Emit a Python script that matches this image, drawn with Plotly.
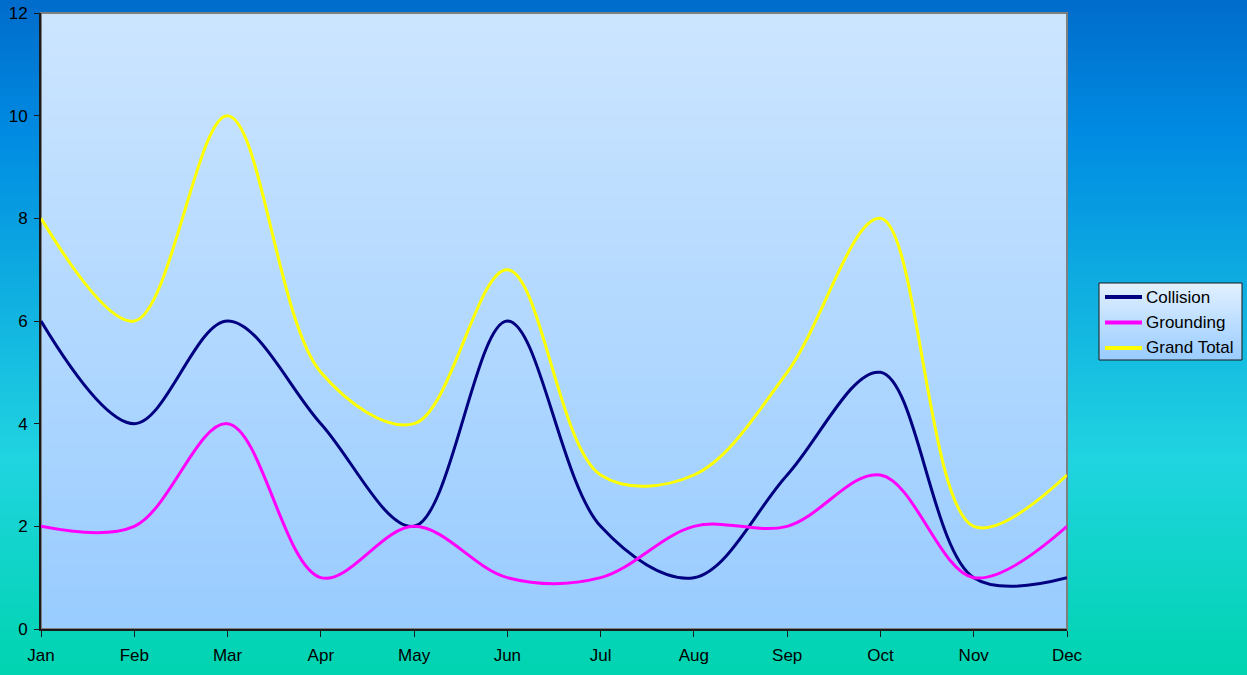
import base64
import struct
import zlib

import plotly.graph_objects as go

months = ["Jan", "Feb", "Mar", "Apr", "May", "Jun", "Jul", "Aug", "Sep", "Oct", "Nov", "Dec"]
collision = [6, 4, 6, 4, 2, 6, 2, 1, 3, 5, 1, 1]
grounding = [2, 2, 4, 1, 2, 1, 1, 2, 2, 3, 1, 2]
grand_total = [8, 6, 10, 5, 4, 7, 3, 3, 5, 8, 2, 3]
y_ticks = [0, 2, 4, 6, 8, 10, 12]
series_names = ["Collision", "Grounding", "Grand Total"]
series_colors = ["#000080", "#FF00FF", "#FFFF00"]

W, H = 1247, 675
L, R, T, B = 41, 180, 13, 46
PW, PH = W - L - R, H - T - B


def px_x(p):
    return (p - L) / PW


def px_y(p):
    return (H - B - p) / PH


def lerp(c1, c2, t):
    return tuple(round(a + (b - a) * t) for a, b in zip(c1, c2))


def grad(stops, t):
    for i in range(len(stops) - 1):
        t0, c0 = stops[i]
        t1, c1 = stops[i + 1]
        if t0 <= t <= t1:
            return lerp(c0, c1, (t - t0) / (t1 - t0) if t1 > t0 else 0)
    return stops[-1][1]


def gradient_png(stops, n=256):
    raw = b""
    for i in range(n):
        c = grad(stops, i / (n - 1))
        raw += b"\x00" + bytes(c) * 2
    def chunk(tag, data):
        return struct.pack(">I", len(data)) + tag + data + struct.pack(">I", zlib.crc32(tag + data) & 0xFFFFFFFF)
    png = b"\x89PNG\r\n\x1a\n"
    png += chunk(b"IHDR", struct.pack(">IIBBBBB", 2, n, 8, 2, 0, 0, 0))
    png += chunk(b"IDAT", zlib.compress(raw, 9))
    png += chunk(b"IEND", b"")
    return "data:image/png;base64," + base64.b64encode(png).decode()


def img(src, x0, x1, y0, y1):
    return dict(source=src, xref="paper", yref="paper", x=px_x(x0), y=px_y(y0),
                sizex=px_x(x1) - px_x(x0), sizey=px_y(y0) - px_y(y1),
                xanchor="left", yanchor="top", sizing="stretch", layer="below")


bg_stops = [(0, (0, 108, 204)), (0.2, (0, 140, 226)), (0.68, (32, 212, 224)), (1.0, (0, 212, 176))]
pa_stops = [(0, (204, 229, 255)), (1, (153, 204, 255))]
lg_stops = [(0, (226, 241, 255)), (1, (153, 204, 255))]

lg_x0, lg_x1, lg_y0, lg_y1 = 1099, 1242, 283, 360
images = [
    img(gradient_png(bg_stops), 0, W, 0, H),
    img(gradient_png(pa_stops), L, L + PW, T, T + PH),
    img(gradient_png(lg_stops), lg_x0, lg_x1, lg_y0, lg_y1),
]

shapes = [
    dict(type="rect", xref="paper", yref="paper", x0=0, x1=1, y0=0, y1=1,
         line=dict(color="#7f7f7f", width=2), fillcolor="rgba(0,0,0,0)", layer="below"),
    dict(type="rect", xref="paper", yref="paper", x0=px_x(lg_x0), x1=px_x(lg_x1),
         y0=px_y(lg_y1), y1=px_y(lg_y0), line=dict(color="#1a1a1a", width=1),
         fillcolor="rgba(0,0,0,0)", layer="above"),
]
annotations = []
row_y = [297, 322.5, 348]
for name, col, ry in zip(series_names, series_colors, row_y):
    shapes.append(dict(type="line", xref="paper", yref="paper", x0=px_x(1105), x1=px_x(1142),
                       y0=px_y(ry), y1=px_y(ry), line=dict(color=col, width=4), layer="above"))
    annotations.append(dict(text=name, xref="paper", yref="paper", x=px_x(1144), y=px_y(ry),
                            xanchor="left", yanchor="middle", showarrow=False,
                            font=dict(size=17, color="black")))

fig = go.Figure()
for name, vals, col in zip(series_names, [collision, grounding, grand_total], series_colors):
    fig.add_trace(go.Scatter(x=months, y=vals, name=name, mode="lines",
                             line=dict(color=col, width=3, shape="spline", smoothing=1.0),
                             cliponaxis=False))

fig.update_layout(
    width=W, height=H,
    autosize=False,
    margin=dict(l=L, r=R, t=T, b=B, autoexpand=False),
    paper_bgcolor="rgb(0,200,190)",
    plot_bgcolor="rgba(0,0,0,0)",
    font=dict(family="Liberation Sans, Arial, sans-serif", size=17, color="black"),
    images=images,
    shapes=shapes,
    annotations=annotations,
    showlegend=False,
    xaxis=dict(type="category", categoryorder="array", categoryarray=months,
               range=[0, 11], showgrid=False, zeroline=False, automargin=False,
               showline=True, linecolor="#1a1a1a", linewidth=2,
               ticks="outside", ticklen=6, tickcolor="#1a1a1a", tickwidth=1,
               tickfont=dict(size=17), ticklabelstandoff=4),
    yaxis=dict(range=[0, 12], tickvals=y_ticks, showgrid=False, zeroline=False, automargin=False,
               showline=True, linecolor="#1a1a1a", linewidth=2,
               ticks="outside", ticklen=5, tickcolor="#1a1a1a", tickwidth=1,
               tickfont=dict(size=17), ticklabelstandoff=3),
)

fig.write_html("out.html", config={"displayModeBar": False},
               post_script="document.body.style.margin='0';")
